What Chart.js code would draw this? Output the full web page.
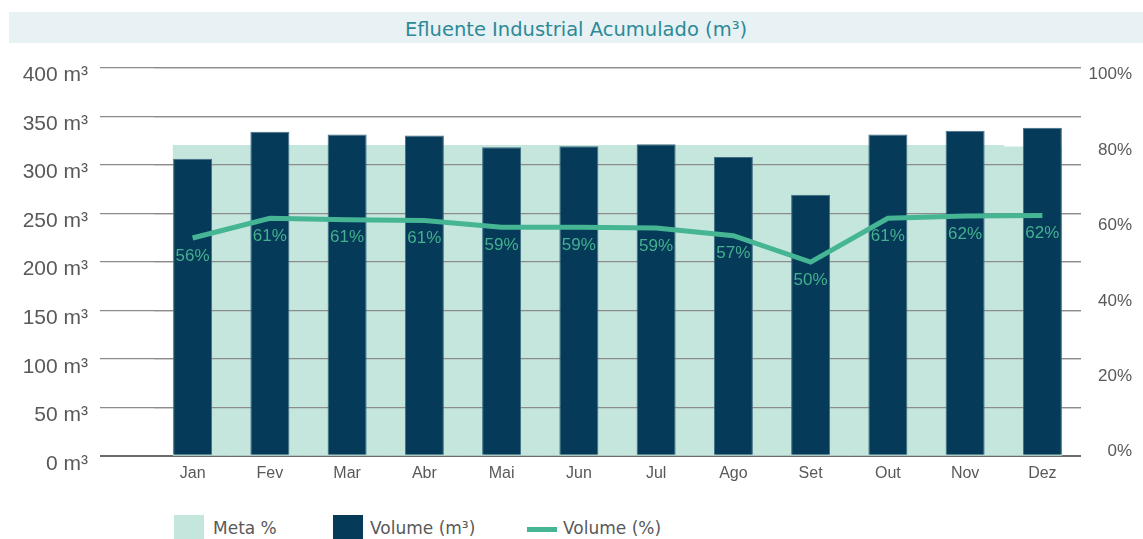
<!DOCTYPE html>
<html>
<head>
<meta charset="utf-8">
<script src="https://cdn.jsdelivr.net/npm/chart.js@4"></script>
<style>
  body { margin: 0; width: 1143px; height: 539px; background: #fff; position: relative; overflow: hidden; }
  #title {
    position: absolute; left: 9px; top: 12px; width: 1134px; height: 31px; overflow: hidden;
    background: #e8f1f4; color: #2c8a98; text-align: center; line-height: 36px;
    font-family: "DejaVu Sans", sans-serif; font-size: 19.5px;
  }
  #wrap { position: absolute; left: 0; top: 43px; width: 1143px; height: 466px; }
  .leg { position: absolute; top: 515px; font-family: "DejaVu Sans", sans-serif; font-size: 17px; color: #595959; line-height: 26px; }
  .box { position: absolute; top: 515px; width: 30px; height: 24px; }
  .ln { position: absolute; top: 527px; width: 30px; height: 5px; background: #45b594; }
</style>
</head>
<body>
<div id="title">Efluente Industrial Acumulado (m³)</div>
<div id="wrap"><canvas id="myChart"></canvas></div>

<div class="box" style="left:174px; background:#c5e6dc"></div>
<div class="leg" style="left:213px">Meta %</div>
<div class="box" style="left:333px; background:#053a59"></div>
<div class="leg" style="left:370px">Volume (m³)</div>
<div class="ln" style="left:527px"></div>
<div class="leg" style="left:563px">Volume (%)</div>

<script>
const labels = ['Jan', 'Fev', 'Mar', 'Abr', 'Mai', 'Jun', 'Jul', 'Ago', 'Set', 'Out', 'Nov', 'Dez'];
const volume = [306, 334, 331, 330, 318, 319, 321, 308, 269, 331, 335, 338];
const volumePct = [56.1, 61.2, 60.8, 60.6, 58.9, 58.9, 58.7, 56.7, 49.9, 61.2, 61.8, 61.9];
const metaPct = [80, 80, 80, 80, 80, 80, 80, 80, 80, 80, 80, 79.6];
const pctTicks = [0, 20, 40, 60, 80, 100];

const gridColor = '#8c8c8c';
const gridWidth = 1.2;

const ctx = document.getElementById('myChart').getContext('2d');

// meta area starts/ends at the outer edges of the first/last volume bar
const trimMeta = {
    id: 'trimMeta',
    afterDatasetsUpdate(chart) {
        const meta = chart.getDatasetMeta(0).data;
        const vol = chart.getDatasetMeta(1).data;
        if (!meta.length || !vol.length) return;
        const first = meta[0], last = meta[meta.length - 1];
        const vFirst = vol[0], vLast = vol[vol.length - 1];
        let l = vFirst.x - vFirst.width / 2, r = first.x + first.width / 2;
        first.x = (l + r) / 2; first.width = r - l;
        l = last.x - last.width / 2; r = vLast.x + vLast.width / 2;
        last.x = (l + r) / 2; last.width = r - l;
    }
};

// gridlines sit on top of the meta area but under the volume bars
const gridOverMeta = {
    id: 'gridOverMeta',
    beforeDatasetDraw(chart, args) {
        if (args.index !== 1) return;
        const c = chart.ctx, y = chart.scales.y, area = chart.chartArea;
        c.save();
        c.strokeStyle = gridColor;
        c.lineWidth = gridWidth;
        y.ticks.forEach(t => {
            if (t.value === 0) return;
            const p = y.getPixelForValue(t.value);
            const py = Math.round(p - gridWidth / 2) + gridWidth / 2;
            c.beginPath();
            c.moveTo(area.left, py);
            c.lineTo(area.right, py);
            c.stroke();
        });
        c.restore();
    }
};

const pctLabels = {
    id: 'pctLabels',
    afterDatasetsDraw(chart) {
        const c = chart.ctx;
        const pts = chart.getDatasetMeta(2).data;
        c.save();
        c.font = '17px "Liberation Sans", Arial, sans-serif';
        c.fillStyle = '#45b08f';
        c.textAlign = 'center';
        c.textBaseline = 'middle';
        pts.forEach((p, i) => {
            c.fillText(Math.round(volumePct[i]) + '%', p.x, p.y + 18);
        });
        c.restore();
    }
};

const data = {
    labels,
    datasets: [
        {
            type: 'bar',
            label: 'Meta %',
            data: metaPct,
            yAxisID: 'y1',
            backgroundColor: '#c5e6dc',
            grouped: false,
            barPercentage: 1,
            categoryPercentage: 1,
            order: 3
        },
        {
            type: 'bar',
            label: 'Volume (m³)',
            data: volume,
            yAxisID: 'y',
            backgroundColor: '#053a59',
            borderColor: '#3f6d84',
            borderWidth: 1,
            borderSkipped: 'bottom',
            grouped: false,
            barPercentage: 0.505,
            categoryPercentage: 1,
            order: 2
        },
        {
            type: 'line',
            label: 'Volume (%)',
            data: volumePct,
            yAxisID: 'y1',
            borderColor: '#45b594',
            borderWidth: 5,
            pointRadius: 0,
            tension: 0,
            order: 1
        }
    ]
};

const config = {
    data: data,
    options: {
        responsive: true,
        maintainAspectRatio: false,
        animation: false,
        layout: { padding: { left: 0, right: 11, top: 18, bottom: 18 } },
        plugins: {
            legend: { display: false },
            tooltip: { enabled: false }
        },
        scales: {
            x: {
                grid: { display: false, drawTicks: false },
                border: { display: false },
                ticks: {
                    color: '#595959',
                    padding: 8,
                    font: { family: '"Liberation Sans", Arial, sans-serif', size: 16 }
                }
            },
            y: {
                position: 'left',
                min: 0,
                max: 400,
                afterFit: (scale) => { scale.width = 154; },
                border: { display: false },
                grid: {
                    color: (c) => c.tick && c.tick.value === 0 ? '#6b6b6b' : gridColor,
                    lineWidth: (c) => c.tick && c.tick.value === 0 ? 2 : gridWidth,
                    drawTicks: true,
                    tickLength: 54
                },
                ticks: {
                    stepSize: 50,
                    padding: 12,
                    labelOffset: 8,
                    color: '#595959',
                    font: { family: '"Liberation Sans", Arial, sans-serif', size: 21 },
                    callback: (v) => v + ' m³'
                }
            },
            // line values: same pixel range as the left axis
            y1: {
                display: false,
                position: 'right',
                min: 0,
                max: 100
            },
            // percent labels, slightly compressed like the original
            y2: {
                position: 'right',
                min: -1.06,
                max: 101.87,
                afterBuildTicks: (scale) => { scale.ticks = pctTicks.map(v => ({ value: v })); },
                afterFit: (scale) => { scale.width = 51; },
                border: { display: false },
                grid: { display: false },
                ticks: {
                    padding: 7,
                    crossAlign: 'far',
                    color: '#595959',
                    font: { family: '"Liberation Sans", Arial, sans-serif', size: 17 },
                    callback: (v) => v + '%'
                }
            }
        }
    },
    plugins: [trimMeta, gridOverMeta, pctLabels]
};

const myChart = new Chart(ctx, config);
</script>
</body>
</html>
